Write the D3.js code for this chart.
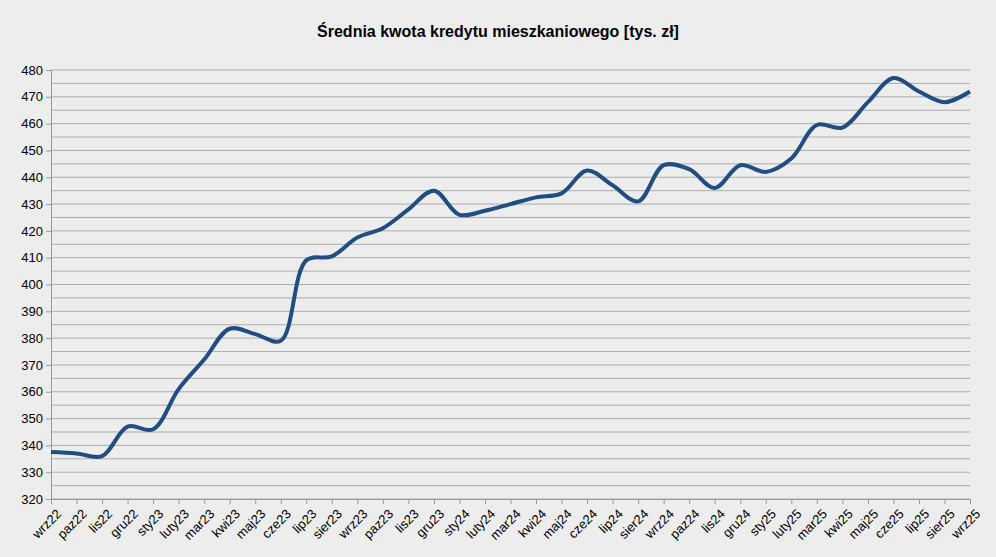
<!DOCTYPE html><html><head><meta charset="utf-8"><script src="https://cdn.jsdelivr.net/npm/d3@7"></script>
<style>body{margin:0;background:#ededed}</style></head><body><svg id="c" width="996" height="557"></svg><script>
const months=["wrz22","paz22","lis22","gru22","sty23","luty23","mar23","kwi23","maj23","cze23","lip23","sier23","wrz23","paz23","lis23","gru23","sty24","luty24","mar24","kwi24","maj24","cze24","lip24","sier24","wrz24","paz24","lis24","gru24","sty25","luty25","mar25","kwi25","maj25","cze25","lip25","sier25","wrz25"];
const values=[337.5,337,336,347,346,361,372,383.5,381.5,379,409,410.5,417.5,421,428,435,426,427.5,430,432.5,434,442.5,437,431,444.5,443,436,444.5,442,447,459.5,458.5,468,477,472,468,472];
const yTicks=d3.range(320,481,10);
const svg=d3.select("#c");
const m={l:51,r:970,t:70,b:499};
const x=d3.scalePoint().domain(months).range([m.l,m.r]);
const y=d3.scaleLinear().domain([320,480]).range([m.b,m.t]);
svg.append("rect").attr("width",996).attr("height",557).attr("fill","#ededed");
svg.append("g").selectAll("line").data(d3.range(320,481,5)).join("line")
 .attr("x1",m.l).attr("x2",m.r).attr("y1",d=>y(d)).attr("y2",d=>y(d))
 .attr("stroke","#adadad").attr("stroke-width",1);
const ya=svg.append("g").attr("transform",`translate(${m.l},0)`).call(d3.axisLeft(y).tickValues(yTicks).tickSize(5).tickFormat(d3.format("d")));
ya.select(".domain").attr("stroke","#999");ya.selectAll("line").attr("stroke","#999");
ya.selectAll("text").attr("font-family","Liberation Sans, Arial").attr("font-size",13).attr("fill","#000");
const xa=svg.append("g").attr("transform",`translate(0,${m.b})`).call(d3.axisBottom(x).tickSize(5));
xa.select(".domain").attr("stroke","#999");xa.selectAll("line").attr("stroke","#999");
xa.selectAll("text").attr("font-family","Liberation Sans, Arial").attr("font-size",13).attr("fill","#000")
 .attr("text-anchor","end").attr("dy","0").attr("transform","translate(5,10) rotate(-45)");
svg.append("path").datum(values).attr("fill","none").attr("stroke","#1f4e85").attr("stroke-width",4)
 .attr("d",d3.line().x((d,i)=>x(months[i])).y(d=>y(d)).curve(d3.curveCatmullRom));
svg.append("text").attr("x",498).attr("y",37).attr("text-anchor","middle").attr("font-family","Liberation Sans, Arial")
 .attr("font-weight","bold").attr("font-size",16).text("Średnia kwota kredytu mieszkaniowego [tys. zł]");
</script></body></html>
